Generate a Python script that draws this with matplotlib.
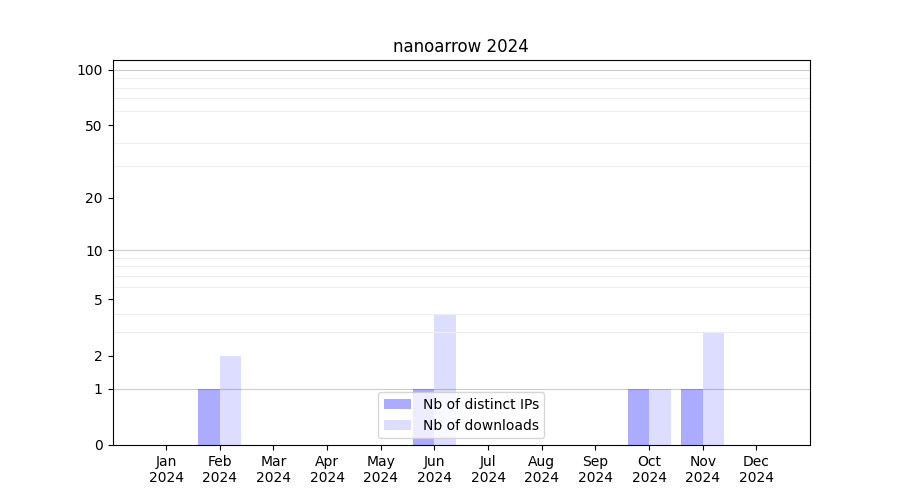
import numpy as np
import matplotlib
matplotlib.use("Agg")
from matplotlib import pyplot as plt

# Monthly data for 2024
months = ['Jan', 'Feb', 'Mar', 'Apr', 'May', 'Jun',
          'Jul', 'Aug', 'Sep', 'Oct', 'Nov', 'Dec']
year = '2024'
distinct_ips = [0, 1, 0, 0, 0, 1, 0, 0, 0, 1, 1, 0]
downloads = [0, 2, 0, 0, 0, 4, 0, 0, 0, 1, 3, 0]
ytick_values = [0, 1, 2, 5, 10, 20, 50, 100]

x = np.arange(1, len(months) + 1)
width = 0.4

fig, ax = plt.subplots(figsize=(9, 5), dpi=100)
ax.set_yscale('function', functions=(lambda v: np.log10(1 + np.clip(v, 0, None)),
                                     lambda v: 10 ** v - 1))

ax.bar(x - width / 2, distinct_ips, width, color='blue', alpha=0.33,
       label='Nb of distinct IPs')
ax.bar(x + width / 2, downloads, width, color='blue', alpha=0.135,
       label='Nb of downloads')

# grid: light lines at intermediate values, darker at decades
minor = [m * d for d in (1, 10) for m in range(2, 10)]
ax.set_yticks(minor, minor=True)
ax.grid(which='minor', axis='y', color='#eeeeee', linewidth=0.8)
ax.tick_params(axis='y', which='minor', length=0)
for d in (1, 10, 100):
    ax.axhline(d, color='#cccccc', linewidth=0.8, zorder=0.5)

ax.set_yticks(ytick_values)
ax.set_yticklabels([str(v) for v in ytick_values])
ax.set_ylim(0, 113)
ax.set_xticks(x)
ax.set_xticklabels([m + '\n' + year for m in months])
ax.set_xlim(0, 13)
ax.set_title('nanoarrow ' + year)
ax.legend(loc='lower center')

plt.savefig('out.png')
